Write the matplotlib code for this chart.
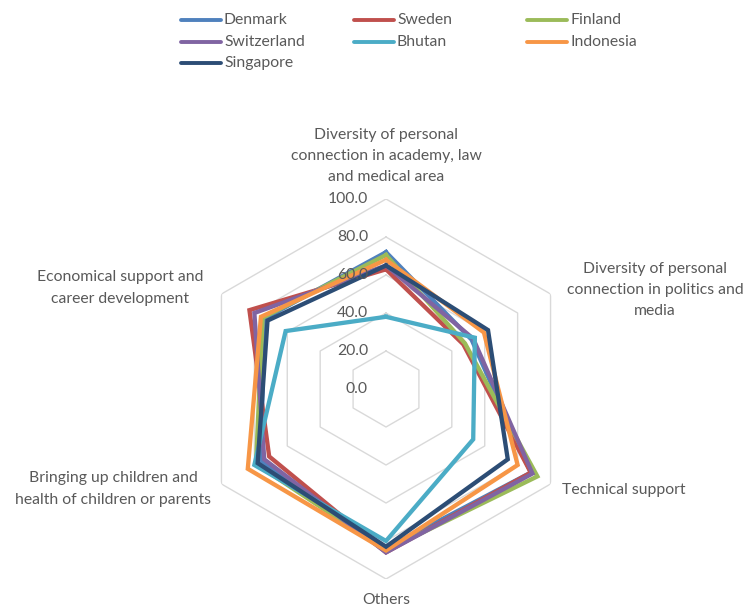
import matplotlib
matplotlib.use('Agg')
import matplotlib.pyplot as plt
import numpy as np
from matplotlib.lines import Line2D

categories = [
    "Diversity of personal\nconnection in academy, law\nand medical area",
    "Diversity of personal\nconnection in politics and\nmedia",
    "Technical support",
    "Others",
    "Bringing up children and\nhealth of children or parents",
    "Economical support and\ncareer development",
]
countries = ["Denmark", "Sweden", "Finland", "Switzerland", "Bhutan", "Indonesia", "Singapore"]
denmark = [72, 52, 88, 84, 76, 74]
sweden = [63, 47, 88, 86, 71, 83]
finland = [70.5, 48, 92, 85, 79, 75]
switzerland = [65, 53, 89, 86, 74, 80]
bhutan = [38, 54, 53, 80, 80, 61]
indonesia = [68, 59.5, 80, 85, 84, 76]
singapore = [65, 62, 74, 83, 78, 72]
series = [denmark, sweden, finland, switzerland, bhutan, indonesia, singapore]
colors = ["#4F81BD", "#C0504D", "#9BBB59", "#8064A2", "#4BACC6", "#F79646", "#2C4D75"]
ticks = [0, 20, 40, 60, 80, 100]

W, H = 746, 609
plt.rcParams['font.family'] = ['Lato', 'DejaVu Sans']
fig = plt.figure(figsize=(W / 100, H / 100), dpi=100)

# center (386, 389) px, radius 190 px
cx, cy, R = 386, 389, 190
ax = fig.add_axes([(cx - R) / W, (H - cy - R) / H, 2 * R / W, 2 * R / H], projection='polar')
ax.set_theta_zero_location('N')
ax.set_theta_direction(-1)
ax.set_ylim(0, 100)
ax.set_xticks([])
ax.set_yticks([])
ax.grid(False)
ax.spines['polar'].set_visible(False)
ax.patch.set_alpha(0)

n = len(categories)
angles = np.arange(n) * 2 * np.pi / n
closed = np.append(angles, angles[0])

# hexagonal gridlines
for t in ticks[1:]:
    ax.plot(closed, [t] * (n + 1), color='#D9D9D9', lw=1, zorder=1)

for t in ticks:
    ax.annotate(f"{t:.1f}", xy=(0, t), xytext=(-13, 0), textcoords='offset points',
                ha='right', va='center', fontsize=11.3, color='#595959', zorder=5)

for name, vals, c in zip(countries, series, colors):
    ax.plot(closed, vals + vals[:1], color=c, lw=3.1, solid_joinstyle='miter', zorder=3)

txt = dict(fontsize=11.3, color='#595959', linespacing=1.65)
def ftext(x, y, s, ha='center'):
    fig.text(x / W, 1 - y / H, s, ha=ha, va='center', multialignment='center', **txt)

ftext(386, 156, categories[0])
ftext(655, 290, categories[1])
ftext(562, 490, categories[2], ha='left')
ftext(386, 600, categories[3])
ftext(113, 489, categories[4])
ftext(120, 288, categories[5])

# legend, 3 equal-width columns
for i, (name, c) in enumerate(zip(countries, colors)):
    col, row = i % 3, i // 3
    x0 = 181 + col * 173
    y0 = 20 + row * 21.5
    fig.add_artist(Line2D([x0 / W, (x0 + 40) / W], [1 - y0 / H, 1 - y0 / H], color=c, lw=2.8,
                          solid_capstyle='round', transform=fig.transFigure))
    fig.text((x0 + 43) / W, 1 - y0 / H, name, ha='left', va='center', fontsize=11.3, color='#595959')

fig.savefig('out.png', dpi=100)
